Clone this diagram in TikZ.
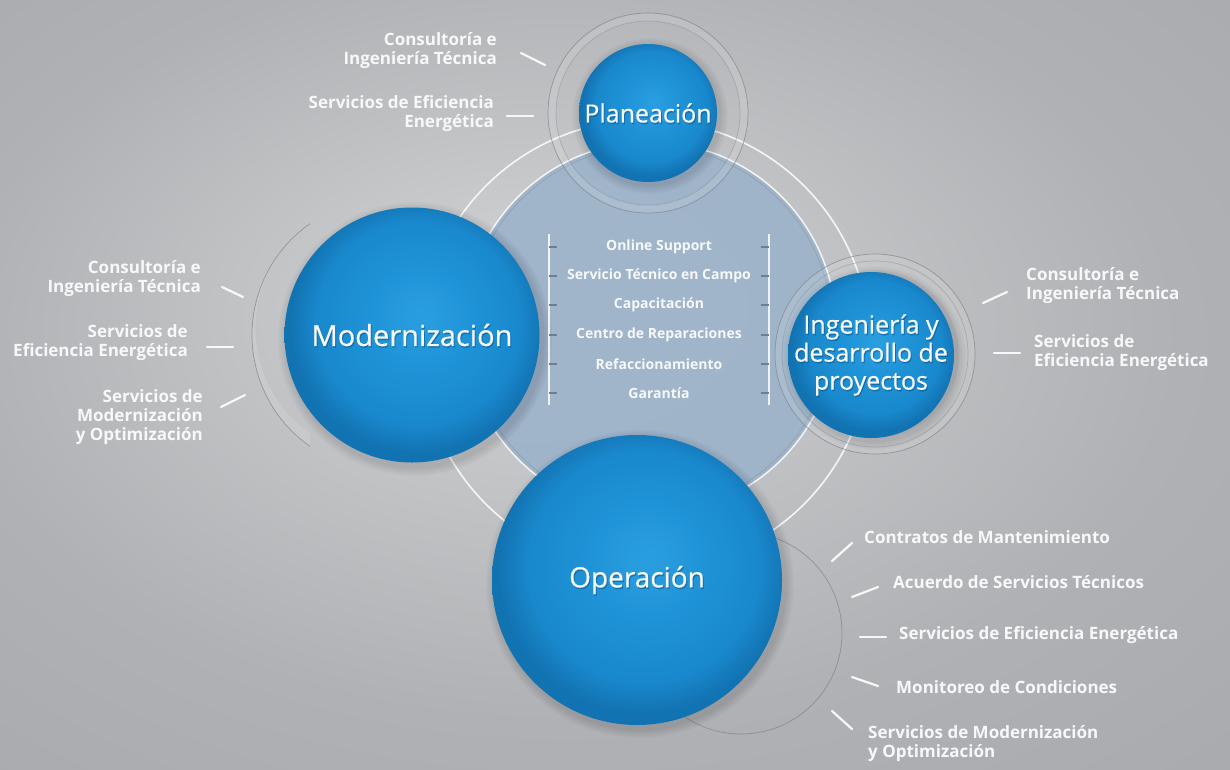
\documentclass[tikz,border=0pt]{standalone}
\usepackage{fontspec}
\setmainfont{Open Sans}
\newfontfamily\sphfont{Open Sans}[FakeBold=0.6]
\definecolor{bgC}{HTML}{D2D3D5}
\definecolor{bgE}{HTML}{AFB1B4}
\definecolor{bgF}{HTML}{A2A4A8}
\definecolor{diskC}{HTML}{9EB4CA}
\definecolor{sphA}{HTML}{2A9FE0}
\definecolor{sphB}{HTML}{1F93D7}
\definecolor{sphC}{HTML}{1988CC}
\definecolor{sphD}{HTML}{1273B2}
\definecolor{ringC}{HTML}{7E8185}
\definecolor{tickC}{HTML}{6E7E90}
\definecolor{txtC}{HTML}{F6F8FA}
\definecolor{glowC}{HTML}{0A4F80}
\pgfdeclareradialshading{bgsh}{\pgfpoint{-4bp}{6bp}}{color(0bp)=(bgC); color(25bp)=(bgE); color(50bp)=(bgF)}
\pgfdeclareradialshading{sphsh}{\pgfpoint{2bp}{4bp}}{color(0bp)=(sphA); color(10bp)=(sphB); color(20bp)=(sphC); color(25bp)=(sphD); color(50bp)=(sphD)}
\newcommand\lblfont{\bfseries\fontsize{17}{19}\selectfont}
\newcommand\lstfont{\bfseries\fontsize{14}{16}\selectfont}
\tikzset{
  lbl/.style={text=txtC, font=\lblfont, inner sep=0pt},
  lblL/.style={lbl, anchor=east, align=right},
  lblR/.style={lbl, anchor=west, align=left},
  lst/.style={text=txtC, font=\lstfont, inner sep=0pt},
  dashline/.style={white, line width=2.2pt, line cap=round, opacity=.9},
  listv/.style={white, line width=1.2pt, opacity=.85},
  listt/.style={tickC, line width=1.2pt},
  sphere/.style={circle, shade, shading=sphsh, inner sep=0pt, text=txtC, align=center},
  sphglow/.style={inner sep=0pt, text=glowC, text opacity=.45, align=center},
  ringline/.style={ringC, line width=.7pt, opacity=.7},
  ringband/.style={white, opacity=.12},
}
\begin{document}
\begin{tikzpicture}[x=1pt,y=-1pt]
\useasboundingbox (0,0) rectangle (1230,769);
\shade[shading=bgsh] (0,0) rectangle (1230,769);
% outer white arc and central disk
\draw[white, line width=1.6pt, opacity=.85] (645,345) circle (225);
\fill[diskC, opacity=.95] (650,328) circle (186);
\draw[ringC, line width=.6pt, opacity=.4] (650,328) circle (182);
\draw[white, line width=1.5pt, opacity=.85] (650,328) circle (186);
% rings behind spheres
\fill[ringband, even odd rule] (648,113) circle (100) (648,113) circle (92);
\draw[ringline] (648,113) circle (100);
\draw[ringline, opacity=.4] (648,113) circle (92);
\fill[ringband, even odd rule] (875,354) circle (100) (875,354) circle (84);
\draw[ringline] (875,354) circle (100);
\draw[ringline, opacity=.4] (875,354) circle (93);
\fill[ringband] (388,335) ++(125:136) arc (125:235:136) -- ++(0,0) arc (235:125:128) -- cycle;
\draw[ringline] (388,335) ++(125:136) arc (125:235:136);
\draw[ringline] (741,633) circle (101);
% soft shadows
\foreach \k in {1,...,6}{
  \fill[black, opacity=.02] (650,116) circle (69+\k*1.5);
  \fill[black, opacity=.02] (415,339) circle (128+\k*1.5);
  \fill[black, opacity=.02] (874,358) circle (83+\k*1.5);
  \fill[black, opacity=.02] (640,584) circle (145+\k*1.5);
}
% spheres
\node[sphere, minimum size=138pt] (plan) at (648,113) {};
\node[sphere, minimum size=255pt] (mod) at (412,335) {};
\node[sphere, minimum size=166pt] (ing) at (871,355) {};
\node[sphere, minimum size=290pt] (op) at (637,580) {};
% sphere titles with a soft dark glow
\node[sphglow, font=\sphfont\fontsize{25}{28}\selectfont] (planS) at ([shift={(1,1.5)}]plan.center) {Planeación};
\node[sphglow, font=\sphfont\fontsize{29}{32}\selectfont] (modS) at ([shift={(1,1.5)}]mod.center) {Modernización};
\node[sphglow, font=\sphfont\fontsize{25}{28}\selectfont] (ingS) at ([shift={(1,1.5)}]ing.center) {Ingeniería y\\desarrollo de\\proyectos};
\node[sphglow, font=\sphfont\fontsize{28}{31}\selectfont] (opS) at ([shift={(1,1.5)}]op.center) {Operación};
\node[inner sep=0pt, text=txtC, font=\sphfont\fontsize{25}{28}\selectfont] (planT) at (plan.center) {Planeación};
\node[inner sep=0pt, text=txtC, font=\sphfont\fontsize{29}{32}\selectfont] (modT) at (mod.center) {Modernización};
\node[inner sep=0pt, text=txtC, align=center, font=\sphfont\fontsize{25}{28}\selectfont] (ingT) at (ing.center) {Ingeniería y\\desarrollo de\\proyectos};
\node[inner sep=0pt, text=txtC, font=\sphfont\fontsize{28}{31}\selectfont] (opT) at (op.center) {Operación};
% central list
\draw[listv] (549,234) -- (549,405);
\draw[listv] (769,234) -- (769,405);
\foreach \y in {247,276,305,335,364,393}{
  \draw[listt] (549,\y) -- (557,\y);
  \draw[listt] (761,\y) -- (769,\y);
}
\node[lst] (c1) at (659,247) {Online Support};
\node[lst] (c2) at (659,276) {Servicio Técnico en Campo};
\node[lst] (c3) at (659,305) {Capacitación};
\node[lst] (c4) at (659,335) {Centro de Reparaciones};
\node[lst] (c5) at (659,364) {Refaccionamiento};
\node[lst] (c6) at (659,393) {Garantía};
% Planeacion labels
\node[lblL] (p1) at (497,51) {Consultoría e\\Ingeniería Técnica};
\node[lblL] (p2) at (494,114) {Servicios de Eficiencia\\Energética};
\draw[dashline] (521,53) -- (545,65);
\draw[dashline] (507,116) -- (533,116);
% Modernizacion labels
\node[lblL] (m1) at (201,279) {Consultoría e\\Ingeniería Técnica};
\node[lblL] (m2) at (188,343) {Servicios de\\Eficiencia Energética};
\node[lblL] (m3) at (203,417) {Servicios de\\Modernización\\y Optimización};
\draw[dashline] (222,287) -- (243,297);
\draw[dashline] (207,347) -- (233,347);
\draw[dashline] (221,407) -- (245,395);
% Ingenieria labels
\node[lblR] (i1) at (1026,286) {Consultoría e\\Ingeniería Técnica};
\node[lblR] (i2) at (1034,353) {Servicios de\\Eficiencia Energética};
\draw[dashline] (983,303) -- (1007,292);
\draw[dashline] (994,353) -- (1020,353);
% Operacion labels
\node[lblR] (o1) at (864,537) {Contratos de Mantenimiento};
\node[lblR] (o2) at (893,582) {Acuerdo de Servicios Técnicos};
\node[lblR] (o3) at (899,635) {Servicios de Eficiencia Energética};
\node[lblR] (o4) at (896,687) {Monitoreo de Condiciones};
\node[lblR] (o5) at (868,744) {Servicios de Modernización\\y Optimización};
\draw[dashline] (832,561) -- (852,543);
\draw[dashline] (852,597) -- (878,587);
\draw[dashline] (860,637) -- (886,637);
\draw[dashline] (852,677) -- (878,686);
\draw[dashline] (832,711) -- (852,729);
\end{tikzpicture}
\end{document}
